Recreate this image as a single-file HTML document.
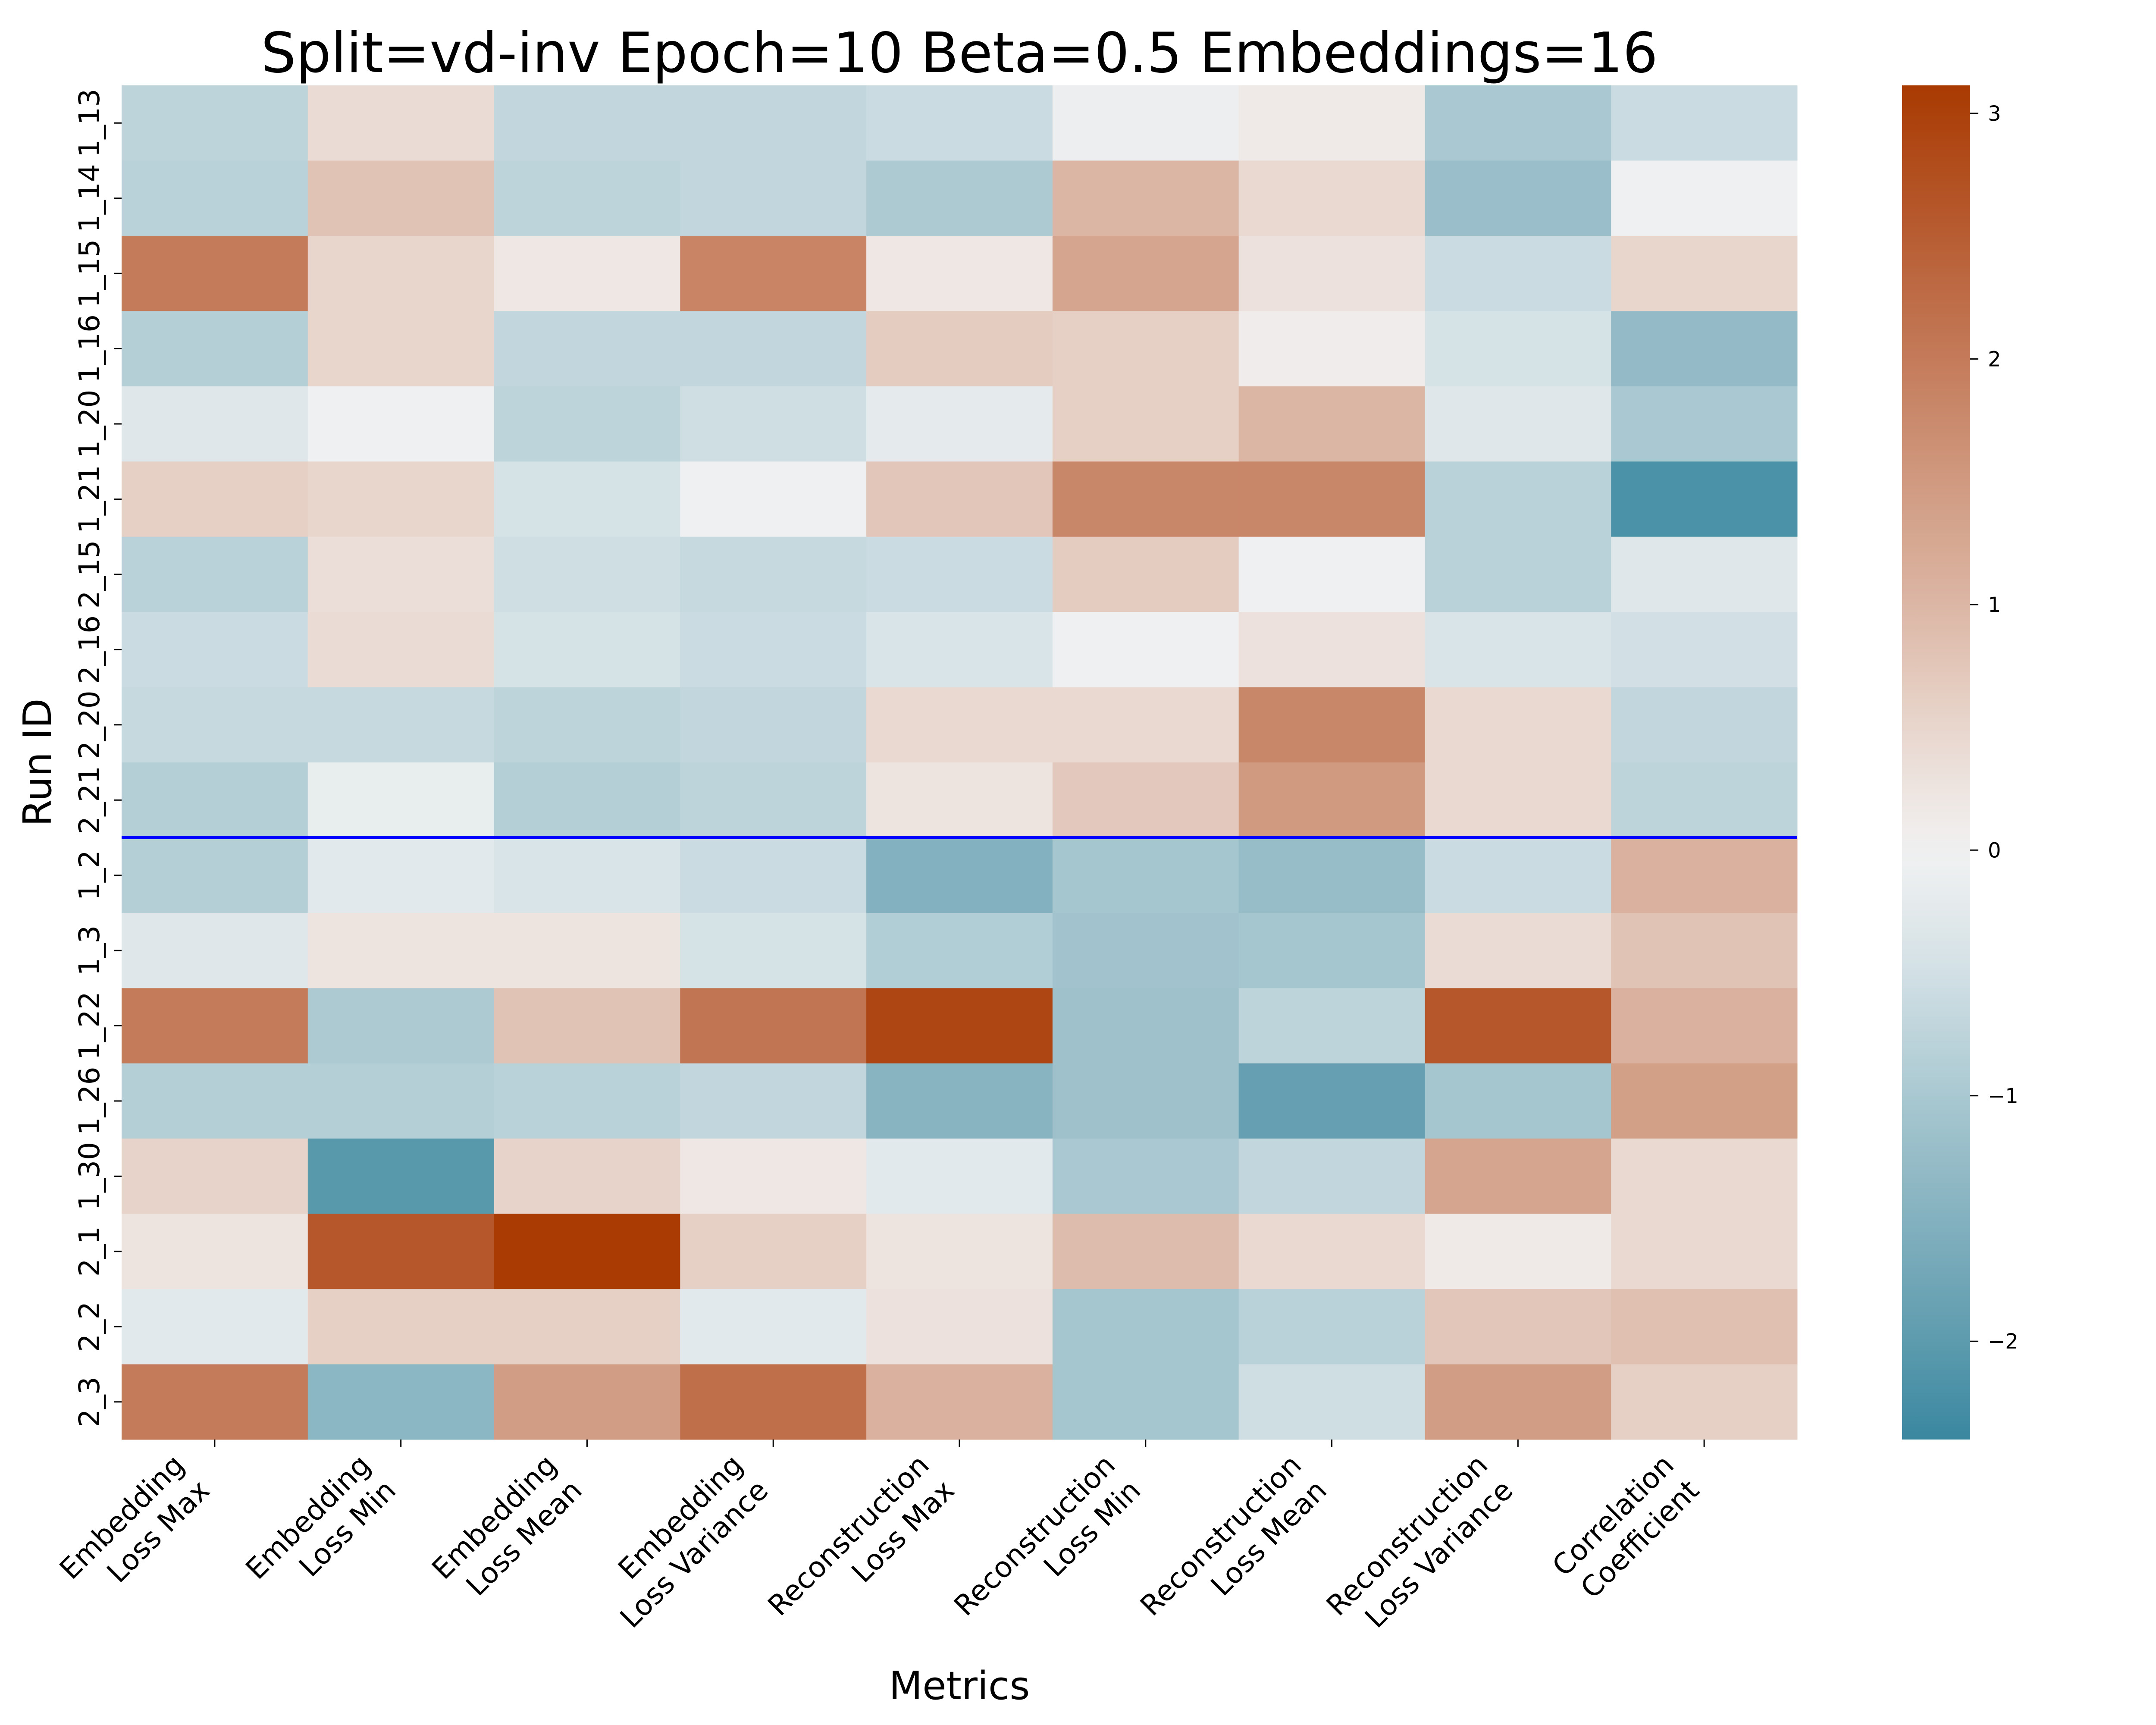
<!DOCTYPE html>
<html><head><meta charset="utf-8"><style>html,body{margin:0;padding:0;background:#fff}svg{display:block}</style></head>
<body>
<svg id="chart" xmlns="http://www.w3.org/2000/svg" width="5200" height="4000" viewBox="0 0 5200 4000" font-family="'DejaVu Sans','Liberation Sans',sans-serif">
<rect width="5200" height="4000" fill="#fff"/>
<text x="2225" y="167" font-size="128" text-anchor="middle">Split=vd-inv Epoch=10 Beta=0.5 Embeddings=16</text>
<g id="cells"></g>
<g id="yticks"></g>
<g id="xticks"></g>
<text transform="translate(118,1768) rotate(-90)" font-size="90" text-anchor="middle">Run ID</text>
<text x="2225" y="3940" font-size="90" text-anchor="middle">Metrics</text>
<defs><linearGradient id="cbg" x1="0" y1="1" x2="0" y2="0"></linearGradient></defs>
<rect x="4411" y="198" width="157" height="3140" fill="url(#cbg)"/>
<g id="cbticks"></g>
</svg>
<script>
const rowLabels = ["1_13","1_14","1_15","1_16","1_20","1_21","2_15","2_16","2_20","2_21","1_2","1_3","1_22","1_26","1_30","2_1","2_2","2_3"];
const colLabels = [["Embedding","Loss Max"],["Embedding","Loss Min"],["Embedding","Loss Mean"],["Embedding","Loss Variance"],["Reconstruction","Loss Max"],["Reconstruction","Loss Min"],["Reconstruction","Loss Mean"],["Reconstruction","Loss Variance"],["Correlation","Coefficient"]];
const values = [
[-0.75,0.4,-0.7,-0.7,-0.6,-0.1,0.15,-1.0,-0.6],
[-0.8,0.8,-0.75,-0.7,-0.95,1.0,0.45,-1.2,-0.05],
[2.0,0.5,0.2,1.85,0.2,1.3,0.3,-0.6,0.5],
[-0.85,0.5,-0.7,-0.7,0.65,0.6,0.1,-0.45,-1.3],
[-0.3,-0.05,-0.75,-0.55,-0.2,0.6,1.0,-0.3,-1.0],
[0.6,0.5,-0.45,-0.05,0.75,1.8,1.8,-0.8,-2.2],
[-0.8,0.35,-0.55,-0.65,-0.6,0.65,-0.05,-0.8,-0.3],
[-0.6,0.4,-0.45,-0.6,-0.4,-0.05,0.3,-0.4,-0.5],
[-0.65,-0.65,-0.75,-0.7,0.45,0.45,1.8,0.45,-0.7],
[-0.85,-0.15,-0.85,-0.75,0.25,0.7,1.5,0.45,-0.75],
[-0.85,-0.25,-0.4,-0.6,-1.5,-1.05,-1.25,-0.6,1.1],
[-0.3,0.25,0.25,-0.45,-0.9,-1.1,-1.05,0.4,0.8],
[2.0,-0.95,0.8,2.1,2.9,-1.15,-0.75,2.6,1.1],
[-0.85,-0.85,-0.8,-0.7,-1.45,-1.15,-1.9,-1.05,1.4],
[0.55,-2.05,0.55,0.2,-0.25,-1.0,-0.7,1.3,0.45],
[0.25,2.6,3.1,0.6,0.25,0.9,0.45,0.15,0.45],
[-0.25,0.6,0.6,-0.25,0.3,-1.05,-0.8,0.75,0.85],
[2.0,-1.4,1.45,2.2,1.1,-1.05,-0.55,1.45,0.6]
];
const cbTicks = [3,2,1,0,-1,-2];
const splitAfterRow = 10;
const vmin = -2.4, vmax = 3.114;
const stopVals = [-2.4,-2.0,-1.5,-1.0,-0.5,0,0.5,1.0,1.5,2.0,2.5,3.114];
const stopCols = ["#3a87a0","#5d9bae","#84b1bf","#a9c8d1","#d2e0e5","#f2f2f2","#e8d6cd","#dcb6a5","#d09a80","#c47b5a","#b85d33","#a93a02"];

const NS="http://www.w3.org/2000/svg";
const L=282,R=4168,T=198,B=3338;
const cw=(R-L)/colLabels.length, rh=(B-T)/rowLabels.length;
const xPos=i=>L+i*cw, yPos=j=>T+j*rh;
const cbY=v=>B-(v-vmin)/(vmax-vmin)*(B-T);
function hex(c){return [1,3,5].map(k=>parseInt(c.substr(k,2),16));}
function color(v){
  if(v<=stopVals[0])return stopCols[0];
  for(let k=1;k<stopVals.length;k++){
    if(v<=stopVals[k]){const t=(v-stopVals[k-1])/(stopVals[k]-stopVals[k-1]);
      const a=hex(stopCols[k-1]),b=hex(stopCols[k]);
      return "rgb("+a.map((x,i)=>Math.round(x+(b[i]-x)*t)).join(",")+")";}
  }
  return stopCols[stopCols.length-1];
}
function mk(tag,attrs,parent,txt){const e=document.createElementNS(NS,tag);for(const k in attrs)e.setAttribute(k,attrs[k]);if(txt!==undefined)e.textContent=txt;parent.appendChild(e);return e;}
const cells=document.getElementById('cells');
values.forEach((row,j)=>row.forEach((v,i)=>{
  const r=mk('rect',{x:xPos(i),y:yPos(j),width:cw+0.5,height:rh+0.5,fill:color(v)},cells);
  
  
}));
const sep=mk('line',{x1:L,x2:R,y1:yPos(splitAfterRow),y2:yPos(splitAfterRow),stroke:'#0000ff','stroke-width':7},cells);


const yt=document.getElementById('yticks');
rowLabels.forEach((lab,j)=>{
  const y=yPos(j)+rh/2;
  const tk=mk('line',{x1:L-17,x2:L,y1:y,y2:y,stroke:'#000','stroke-width':3},yt);
  
  
  const t=mk('text',{transform:`translate(230,${y}) rotate(-90)`,'font-size':66,'text-anchor':'middle'},yt,lab);
  
  
});
const xt=document.getElementById('xticks');
colLabels.forEach((lab,i)=>{
  const x=xPos(i)+cw/2;
  const tk=mk('line',{x1:x,x2:x,y1:B,y2:B+18,stroke:'#000','stroke-width':3},xt);
  
  
  const g=mk('g',{transform:`translate(${x-8},${B+122}) rotate(-45)`},xt);
  
  
  mk('text',{x:0,y:-83,'font-size':66,'text-anchor':'end'},g,lab[0]);
  mk('text',{x:0,y:0,'font-size':66,'text-anchor':'end'},g,lab[1]);
});
const grad=document.getElementById('cbg');
for(let k=0;k<=40;k++){const v=vmin+(vmax-vmin)*k/40;mk('stop',{offset:(k/40),'stop-color':color(v)},grad);}
const cbt=document.getElementById('cbticks');
cbTicks.forEach(v=>{
  const y=cbY(v);
  const tk=mk('line',{x1:4568,x2:4588,y1:y,y2:y,stroke:'#000','stroke-width':3},cbt);
  
  
  const t=mk('text',{x:4610,y:y+17,'font-size':48},cbt,v<0?'\u2212'+(-v):String(v));
  
  
});
</script>
</body></html>
